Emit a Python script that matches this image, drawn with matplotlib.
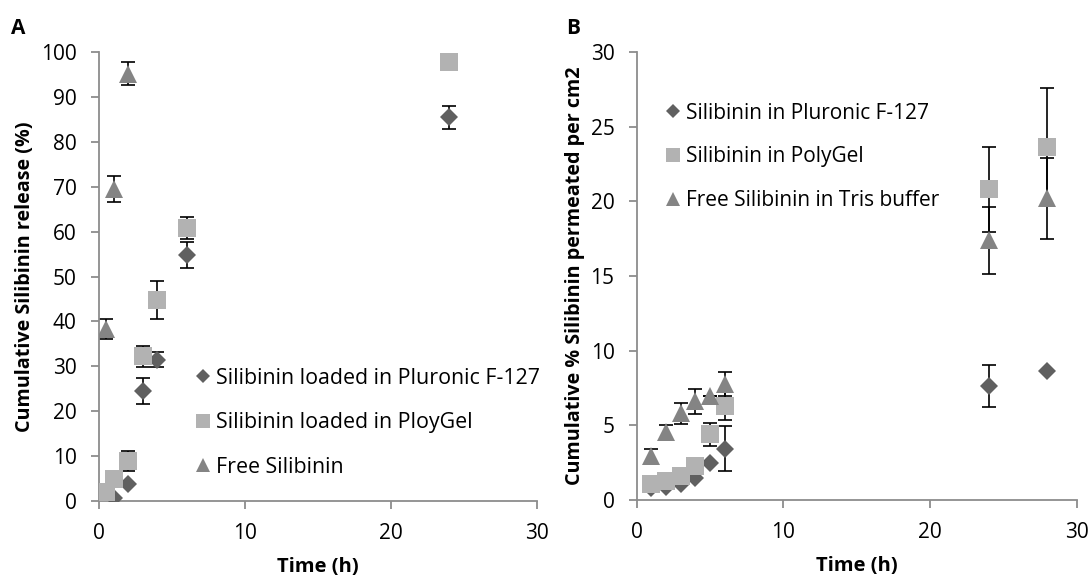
import numpy as np
import matplotlib
matplotlib.use("Agg")
import matplotlib.pyplot as plt

plt.rcParams['font.family'] = ['Open Sans', 'DejaVu Sans']

# Panel A: cumulative release (%)
t_plur_a = [1, 2, 3, 4, 6, 24]
plur_a = [0.6, 3.8, 24.6, 31.5, 54.9, 85.5]
plur_a_err = [0, 0, 2.9, 1.6, 2.9, 2.6]

t_poly_a = [0.5, 1, 2, 3, 4, 6, 24]
poly_a = [2.1, 5.0, 8.9, 32.2, 44.8, 60.8, 97.7]
poly_a_err = [0, 0, 2.3, 2.4, 4.2, 2.5, 0]

t_free_a = [0.5, 1, 2]
free_a = [38.3, 69.5, 95.2]
free_a_err = [2.3, 2.9, 2.5]

labels_a = ["Silibinin loaded in Pluronic F-127",
            "Silibinin loaded in PloyGel",
            "Free Silibinin"]

# Panel B: cumulative % permeated per cm2
t_b = [1, 2, 3, 4, 5, 6, 24, 28]
plur_b = [0.8, 0.9, 1.1, 1.45, 2.45, 3.45, 7.65, 8.65]
plur_b_err = [0, 0, 0, 0, 0, 1.5, 1.4, 0]
poly_b = [1.1, 1.25, 1.6, 2.25, 4.4, 6.3, 20.8, 23.65]
poly_b_err = [0, 0, 0, 0, 0.75, 0.95, 2.85, 3.95]
free_b = [2.95, 4.55, 5.8, 6.6, 7.0, 7.8, 17.4, 20.2]
free_b_err = [0.45, 0.5, 0.7, 0.85, 0, 0.8, 2.25, 2.7]

labels_b = ["Silibinin in Pluronic F-127",
            "Silibinin in PolyGel",
            "Free Silibinin in Tris buffer"]

c_plur = '#606060'
c_poly = '#b2b2b2'
c_free = '#848484'
axis_col = '#8c8c8c'


def draw_series(ax, t, y, err, marker, color, ms, label):
    ax.errorbar(t, y, yerr=err, fmt='none', ecolor='black', elinewidth=1.2,
                capsize=5, capthick=1.2, zorder=2)
    ax.plot(t, y, linestyle='none', marker=marker, color=color, ms=ms,
            markeredgewidth=0, label=label, zorder=3)


def style_axis(ax, ymax, ystep):
    ax.set_xlim(0, 30)
    ax.set_ylim(0, ymax)
    ax.set_xticks([0, 10, 20, 30])
    ax.set_yticks(np.arange(0, ymax + 0.1, ystep))
    for s in ['top', 'right']:
        ax.spines[s].set_visible(False)
    for s in ['left', 'bottom']:
        ax.spines[s].set_color(axis_col)
        ax.spines[s].set_linewidth(1.3)
    ax.tick_params(axis='both', direction='out', length=6, width=1.3,
                   color=axis_col, labelsize=15)
    ax.tick_params(axis='y', pad=10)
    ax.tick_params(axis='x', pad=10)
    ax.set_xlabel('Time (h)', fontsize=14.5, fontweight='bold', labelpad=9)


def add_legend(ax, x, y, fs):
    ax.legend(loc='center left', bbox_to_anchor=(x, y), frameon=False,
              fontsize=fs, markerscale=0.75, handlelength=0.8,
              handletextpad=0.2, labelspacing=1.1, borderaxespad=0,
              borderpad=0)


fig = plt.figure(figsize=(10.91, 5.8), dpi=100)
ax_a = fig.add_axes([0.0907, 0.1362, 0.4015, 0.774])
ax_b = fig.add_axes([0.5836, 0.1379, 0.4034, 0.7722])

draw_series(ax_a, t_plur_a, plur_a, plur_a_err, 'D', c_plur, 9.5, labels_a[0])
draw_series(ax_a, t_poly_a, poly_a, poly_a_err, 's', c_poly, 13.2, labels_a[1])
draw_series(ax_a, t_free_a, free_a, free_a_err, '^', c_free, 13.2, labels_a[2])
style_axis(ax_a, 100, 10)
ax_a.set_ylabel('Cumulative Silibinin release (%)', fontsize=14.2,
                fontweight='bold', labelpad=4)
add_legend(ax_a, 0.218, 0.174, 15.4)

draw_series(ax_b, t_b, plur_b, plur_b_err, 'D', c_plur, 9.5, labels_b[0])
draw_series(ax_b, t_b, poly_b, poly_b_err, 's', c_poly, 13.2, labels_b[1])
draw_series(ax_b, t_b, free_b, free_b_err, '^', c_free, 13.2, labels_b[2])
style_axis(ax_b, 30, 5)
ax_b.set_ylabel('Cumulative % Silibinin permeated per cm2', fontsize=14.2,
                fontweight='bold', labelpad=4)
add_legend(ax_b, 0.064, 0.766, 15)

fig.text(0.010, 0.951, 'A', fontsize=15, fontweight='bold', va='center')
fig.text(0.519, 0.950, 'B', fontsize=15, fontweight='bold', va='center')

fig.savefig('out.png', dpi=100)
